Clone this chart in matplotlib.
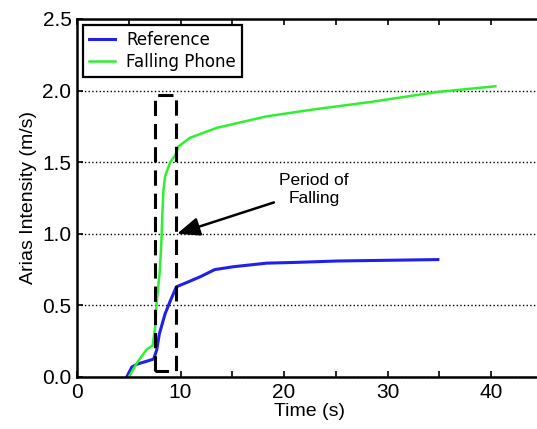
import matplotlib
matplotlib.use('Agg')
import matplotlib.pyplot as plt
from matplotlib.ticker import MultipleLocator

# values
ref_t = [4.8, 5.3, 5.8, 6.5, 7.4, 7.7, 7.95, 8.5, 9.0, 9.6, 10.6, 11.9, 13.3,
         15.1, 18.3, 21.0, 25.1, 30.0, 34.85]
ref_ai = [0.0, 0.07, 0.09, 0.105, 0.125, 0.19, 0.30, 0.44, 0.53, 0.63, 0.66,
          0.70, 0.75, 0.77, 0.795, 0.80, 0.81, 0.815, 0.82]

fall_t = [5.0, 5.4, 5.8, 6.7, 7.3, 7.55, 7.7, 8.0, 8.15, 8.25, 8.35, 8.5,
          9.0, 9.5, 9.8, 10.9, 13.5, 18.3, 23.0, 28.3, 34.75, 40.4]
fall_ai = [0.0, 0.05, 0.10, 0.19, 0.22, 0.35, 0.53, 0.74, 0.95, 1.15, 1.30,
           1.40, 1.50, 1.55, 1.61, 1.67, 1.74, 1.82, 1.87, 1.92, 1.99, 2.03]

# dashed box marking the period of falling
box_t = [7.55, 7.55, 9.6, 9.6, 7.55]
box_ai = [0.045, 1.97, 1.97, 0.045, 0.045]

fig = plt.figure(figsize=(5.37, 4.29), dpi=100)
ax = fig.add_axes([77/537, 52/429, 466/537, 358/429])

ax.plot(ref_t, ref_ai, color='#2020ee', lw=2.2, label='Reference')
ax.plot(fall_t, fall_ai, color='#2ef02e', lw=1.8, label='Falling Phone')
ax.plot(box_t, box_ai, color='black', lw=2.2, dashes=(5, 2.6))

ax.annotate('Period of\nFalling', xy=(9.66, 1.0), xytext=(22.9, 1.31),
            ha='center', va='center', fontsize=12.5, family='Liberation Sans',
            arrowprops=dict(arrowstyle='-|>,head_length=1.1,head_width=0.45',
                            color='black', lw=1.8, shrinkA=2, shrinkB=0))

ax.set_xlim(0, 45)
ax.set_ylim(0, 2.5)
ax.xaxis.set_major_locator(MultipleLocator(10))
ax.xaxis.set_minor_locator(MultipleLocator(5))
ax.yaxis.set_major_locator(MultipleLocator(0.5))
ax.yaxis.set_major_formatter(matplotlib.ticker.FormatStrFormatter('%.1f'))
ax.tick_params(which='both', direction='in', top=True, right=True,
               length=4, width=1.2, labelsize=15, pad=4)
for lab in ax.get_xticklabels() + ax.get_yticklabels():
    lab.set_family('Liberation Sans')
ax.yaxis.grid(True, linestyle=':', color='black', lw=1.0)
for s in ax.spines.values():
    s.set_linewidth(1.8)

ax.set_xlabel('Time (s)', fontsize=14, family='Liberation Sans', labelpad=1)
ax.set_ylabel('Arias Intensity (m/s)', fontsize=14, family='Liberation Sans',
              labelpad=4)

leg = ax.legend(loc='upper left', fontsize=12, fancybox=False,
                borderaxespad=0.35, handlelength=1.6, handletextpad=0.65,
                labelspacing=0.25, borderpad=0.35, framealpha=1)
leg.get_frame().set_edgecolor('black')
leg.get_frame().set_linewidth(1.6)

fig.savefig('out.png', dpi=100)
